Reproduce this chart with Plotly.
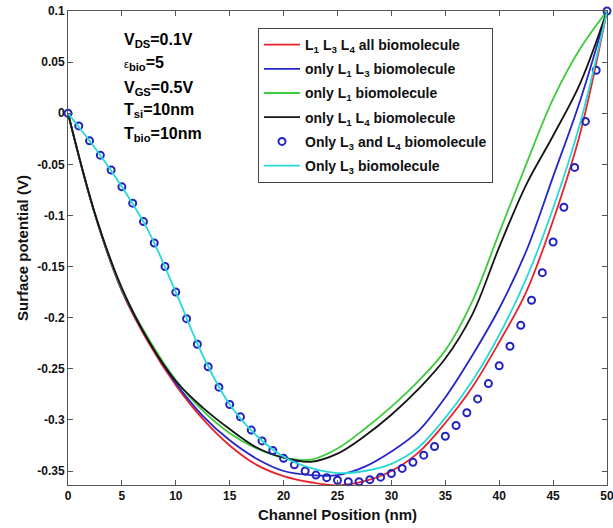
import plotly.graph_objects as go

# ---------------- data ----------------
x_line = [0, 2.5, 5, 7.5, 10, 12.5, 15, 17.5, 20, 22.5, 25,
          27.5, 30, 32.5, 35, 37.5, 40, 42.5, 45, 47.5, 50]

y_all = [0, -0.099, -0.174, -0.225, -0.266, -0.299, -0.325, -0.344, -0.355, -0.361, -0.364,
         -0.360, -0.350, -0.332, -0.303, -0.268, -0.224, -0.175, -0.105, -0.020, 0.1]
y_l1l3 = [0, -0.099, -0.173, -0.223, -0.264, -0.296, -0.320, -0.338, -0.350, -0.354, -0.354,
          -0.346, -0.331, -0.311, -0.278, -0.237, -0.191, -0.135, -0.062, 0.012, 0.1]
y_l1 = [0, -0.098, -0.172, -0.221, -0.261, -0.291, -0.313, -0.328, -0.337, -0.339, -0.328,
        -0.309, -0.287, -0.262, -0.232, -0.184, -0.117, -0.050, 0.014, 0.063, 0.1]
y_l1l4 = [0, -0.098, -0.171, -0.223, -0.262, -0.288, -0.309, -0.327, -0.337, -0.341, -0.333,
          -0.316, -0.295, -0.270, -0.240, -0.197, -0.131, -0.070, -0.022, 0.029, 0.1]
y_l3 = [0, -0.034, -0.072, -0.116, -0.175, -0.237, -0.285, -0.3155, -0.336, -0.347, -0.352,
        -0.350, -0.343, -0.327, -0.298, -0.262, -0.217, -0.162, -0.093, -0.010, 0.1]

x_pts = list(range(0, 51))
y_l3l4 = [0, -0.0124, -0.027, -0.041, -0.0555, -0.072, -0.088, -0.106, -0.127, -0.150,
          -0.175, -0.201, -0.226, -0.248, -0.268, -0.285, -0.297, -0.310, -0.3206, -0.330,
          -0.3376, -0.344, -0.350, -0.354, -0.3565, -0.359, -0.3605, -0.3605, -0.3585, -0.356,
          -0.3525, -0.3475, -0.3415, -0.3345, -0.326, -0.316, -0.3055, -0.293, -0.2795, -0.2645,
          -0.247, -0.228, -0.2075, -0.183, -0.156, -0.126, -0.092, -0.053, -0.008, 0.042, 0.1]

names = [
    "<b>L<sub>1</sub> L<sub>3</sub> L<sub>4</sub> all biomolecule</b>",
    "<b>only L<sub>1</sub> L<sub>3</sub> biomolecule</b>",
    "<b>only L<sub>1</sub> biomolecule</b>",
    "<b>only L<sub>1</sub> L<sub>4</sub> biomolecule</b>",
    "<b>Only L<sub>3</sub> and L<sub>4</sub> biomolecule</b>",
    "<b>Only L<sub>3</sub> biomolecule</b>",
]
x_ticks = [0, 5, 10, 15, 20, 25, 30, 35, 40, 45, 50]
y_ticks = [-0.35, -0.3, -0.25, -0.2, -0.15, -0.1, -0.05, 0, 0.05, 0.1]
y_ticktext = ["-0.35", "-0.3", "-0.25", "-0.2", "-0.15", "-0.1", "-0.05", "0", "0.05", "0.1"]

params = [
    "V<sub>DS</sub>=0.1V",
    "<span style='font-size:11px;font-weight:normal'>ε</span><sub>bio</sub>=5",
    "V<sub>GS</sub>=0.5V",
    "T<sub>si</sub>=10nm",
    "T<sub>bio</sub>=10nm",
]
param_y = [40, 63, 88, 111, 134]

FONT = "Liberation Sans, Arial, sans-serif"
W, H = 613, 528
ML, MR, MT, MB = 68, 6, 11, 43
PW, PH = W - ML - MR, H - MT - MB

fig = go.Figure()
line_series = [(y_all, "#e8232a"), (y_l1l3, "#2626c8"), (y_l1, "#3ccc3c"), (y_l1l4, "#141414")]
for i, (ys, col) in enumerate(line_series):
    fig.add_trace(go.Scatter(x=x_line, y=ys, mode="lines", name=names[i],
                             line=dict(color=col, width=1.8, shape="spline", smoothing=1.0),
                             legendgroup=f"g{i}"))
fig.add_trace(go.Scatter(x=x_pts, y=y_l3l4, mode="markers", name=names[4],
                         marker=dict(symbol="circle-open", size=7, color="#2222c0",
                                     line=dict(width=2, color="#2222c0")),
                         cliponaxis=False, legendgroup="g4"))
fig.add_trace(go.Scatter(x=x_line, y=y_l3, mode="lines", name=names[5],
                         line=dict(color="#2ad8d8", width=1.8, shape="spline", smoothing=1.0),
                         legendgroup="g5"))

for txt, py in zip(params, param_y):
    fig.add_annotation(text=f"<b>{txt}</b>", xref="paper", yref="paper",
                       x=(122 - ML) / PW, y=(H - MB - py) / PH,
                       xanchor="left", yanchor="middle", showarrow=False,
                       font=dict(family=FONT, size=16, color="black"), align="left")

axis_common = dict(showgrid=False, zeroline=False, showline=True, linecolor="#555555",
                   linewidth=1, mirror="ticks", ticks="inside", ticklen=5,
                   tickcolor="#555555", automargin=False, ticklabeloverflow="allow",
                   tickfont=dict(family=FONT, size=12, color="#111111", weight="bold"))

fig.update_layout(
    width=W, height=H,
    margin=dict(l=ML, r=MR, t=MT, b=MB),
    paper_bgcolor="white", plot_bgcolor="white",
    xaxis=dict(range=[0, 50], tickvals=x_ticks,
               title=dict(text="Channel Position (nm)", standoff=7,
                          font=dict(family=FONT, size=15, color="#111111", weight="bold")),
               **axis_common),
    yaxis=dict(range=[-0.3637, 0.1], tickvals=y_ticks, ticktext=y_ticktext,
               title=dict(text="Surface potential (V)", standoff=4,
                          font=dict(family=FONT, size=15, color="#111111", weight="bold")),
               **axis_common),
    legend=dict(x=(258 - ML) / PW, y=(H - MB - 28) / PH, xanchor="left", yanchor="top",
                bgcolor="white", bordercolor="#444444", borderwidth=1,
                font=dict(family=FONT, size=14, color="#111111"),
                tracegroupgap=3, itemwidth=36),
    showlegend=True,
)

fig.write_html("out.html")
